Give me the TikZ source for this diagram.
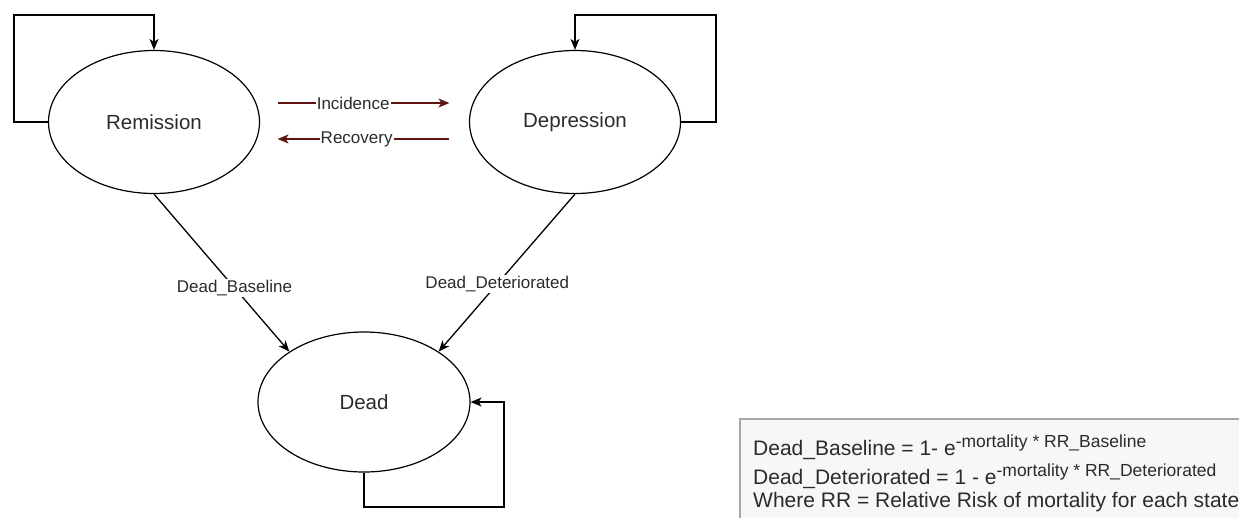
\documentclass[tikz,border=0pt]{standalone}
\usepackage{fontspec}
\setmainfont{Liberation Sans}
\usetikzlibrary{shapes.geometric,arrows.meta,calc}

\definecolor{txtgray}{HTML}{2b2b2b}
\definecolor{transred}{RGB}{95,20,20}
\newcommand\expo[1]{\raisebox{8pt}{\fontsize{17.5}{20}\selectfont #1}}

\begin{document}
\begin{tikzpicture}[x=1pt,y=-1pt,
  state/.style={ellipse, draw, line width=1.2pt,
                minimum width=211pt, minimum height=143pt,
                inner sep=0pt, text=txtgray,
                font=\fontsize{20.5}{24}\selectfont},
  link/.style={line width=1.3pt, -{Stealth[length=11pt,width=9pt,inset=3pt]}},
  trans/.style={link, draw=transred},
  lbl/.style={fill=white, inner sep=1pt, text=txtgray,
              font=\fontsize{17}{20}\selectfont},
  formula/.style={anchor=base west, inner sep=0pt, text=txtgray,
                  font=\fontsize{21}{25}\selectfont},
  ]
\useasboundingbox (0,0) rectangle (1239,517);

\node[state] (rem) at (154,122) {Remission};
\node[state] (dep) at (575,122) {Depression};
\node[state, minimum width=212pt, minimum height=140pt] (dead) at (364,402) {Dead};

% self loops
\draw[link] (rem.west) -| (14,15) -| (rem.north);
\draw[link] (dep.east) -| (716,15) -| (dep.north);
\draw[link] (dead.south) |- (504,507) |- (dead.east);

% remission <-> depression
\draw[trans] ($(rem.east)+(17.5,-19)$) -- node[lbl,pos=0.44]{Incidence} ($(dep.west)+(-19.5,-19)$);
\draw[trans] ($(dep.west)+(-19.5,17)$) -- node[lbl,pos=0.54]{Recovery} ($(rem.east)+(17.5,17)$);

% mortality
\draw[link] (rem.south) -- node[lbl,pos=0.595]{Dead\_Baseline} (dead.146);
\draw[link] (dep.south) -- node[lbl,pos=0.57]{Dead\_Deteriorated} (dead.34);

% formula box
\draw[draw=gray!70, line width=2pt, fill=gray!6] (740,419) rectangle (1260,530);
\node[formula] (f1) at (753,455) {Dead\_Baseline = 1- e\expo{-mortality * RR\_Baseline}};
\node[formula] (f2) at (753,484) {Dead\_Deteriorated = 1 - e\expo{-mortality * RR\_Deteriorated}};
\node[formula] (f3) at (753,507) {Where RR = Relative Risk of mortality for each state};
\end{tikzpicture}
\end{document}
